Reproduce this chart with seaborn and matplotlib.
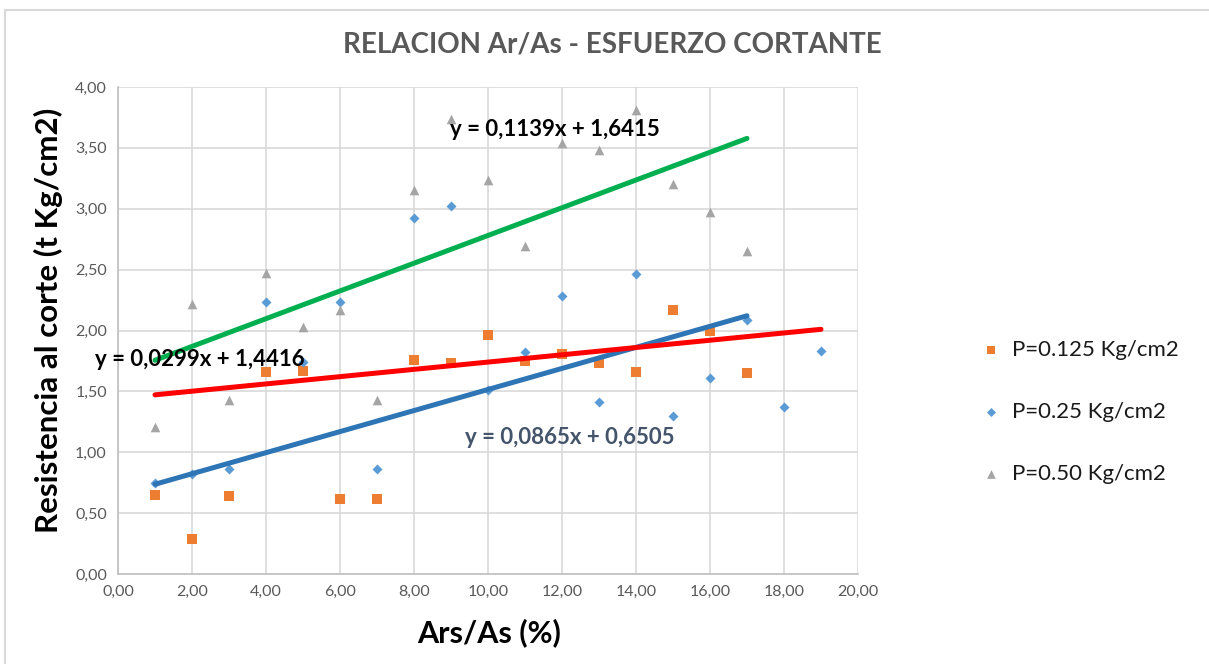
import matplotlib
matplotlib.use("Agg")
import matplotlib.pyplot as plt
import seaborn as sns
import numpy as np
import pandas as pd
from matplotlib.ticker import FuncFormatter, MultipleLocator
from matplotlib.patches import Rectangle

# ---- data ----
x_125 = [1, 2, 3, 4, 5, 6, 7, 8, 9, 10, 11, 12, 13, 14, 15, 16, 17]
y_125 = [0.65, 0.29, 0.64, 1.66, 1.67, 0.62, 0.62, 1.76, 1.73, 1.96, 1.75, 1.81, 1.73, 1.66, 2.17, 2.00, 1.65]

x_25 = [1, 2, 3, 4, 5, 6, 7, 8, 9, 10, 11, 12, 13, 14, 15, 16, 17, 18, 19]
y_25 = [0.75, 0.82, 0.86, 2.23, 1.74, 2.23, 0.86, 2.92, 3.02, 1.51, 1.82, 2.28, 1.41, 2.46, 1.30, 1.61, 2.09, 1.37, 1.83]

x_50 = [1, 2, 3, 4, 5, 6, 7, 8, 9, 10, 11, 12, 13, 14, 15, 16, 17]
y_50 = [1.21, 2.22, 1.43, 2.47, 2.03, 2.17, 1.43, 3.15, 3.74, 3.24, 2.69, 3.54, 3.48, 3.81, 3.20, 2.97, 2.65]

series_labels = ["P=0.125 Kg/cm2", "P=0.25 Kg/cm2", "P=0.50 Kg/cm2"]

# trendline equations (slope, intercept) and x-ranges as shown
trend_slopes = [0.0865, 0.0299, 0.1139]
trend_intercepts = [0.6505, 1.4416, 1.6415]
trend_x_ranges = [(1, 17), (1, 19), (1, 17)]
trend_texts = ["y = 0,0865x + 0,6505", "y = 0,0299x + 1,4416", "y = 0,1139x + 1,6415"]

title = "RELACION Ar/As - ESFUERZO CORTANTE"
xlabel = "Ars/As (%)"
ylabel = "Resistencia al corte (t Kg/cm2)"

df = pd.DataFrame({
    "x": x_125 + x_25 + x_50,
    "y": y_125 + y_25 + y_50,
    "serie": [series_labels[0]] * len(x_125) + [series_labels[1]] * len(x_25) + [series_labels[2]] * len(x_50),
})

sns.set_theme(style="white")
plt.rcParams["font.family"] = ["Lato", "DejaVu Sans"]

W, H = 1209, 664
fig = plt.figure(figsize=(W / 100, H / 100), dpi=100)
fig.patch.set_facecolor("white")
ax = fig.add_axes([118 / W, 1 - 574 / H, (858 - 118) / W, (574 - 87) / H])

palette = {series_labels[0]: "#ED7D31", series_labels[1]: "#5B9BD5", series_labels[2]: "#A5A5A5"}
markers = {series_labels[0]: "s", series_labels[1]: "D", series_labels[2]: "^"}
sizes = {series_labels[0]: 42, series_labels[1]: 26, series_labels[2]: 48}

for lab in series_labels:
    sub = df[df["serie"] == lab]
    sns.scatterplot(data=sub, x="x", y="y", color=palette[lab], marker=markers[lab],
                    s=sizes[lab], linewidth=0, ax=ax, label=lab, zorder=3)

line_colors = ["#2E75B6", "#FF0000", "#00B050"]
for m, b, (x0, x1), c in zip(trend_slopes, trend_intercepts, trend_x_ranges, line_colors):
    xs = np.array([x0, x1])
    ax.plot(xs, m * xs + b, color=c, lw=3.6, solid_capstyle="round", zorder=4)

ax.set_xlim(0, 20)
ax.set_ylim(0, 4)
ax.xaxis.set_major_locator(MultipleLocator(2))
ax.yaxis.set_major_locator(MultipleLocator(0.5))
fmt = FuncFormatter(lambda v, p: f"{v:.2f}".replace(".", ","))
ax.xaxis.set_major_formatter(fmt)
ax.yaxis.set_major_formatter(fmt)
ax.grid(True, color="#D9D9D9", lw=1.2, zorder=0)
ax.set_axisbelow(True)
for s in ["top", "right"]:
    ax.spines[s].set_visible(False)
for s in ["left", "bottom"]:
    ax.spines[s].set_color("#BFBFBF")
    ax.spines[s].set_linewidth(1.2)
ax.tick_params(axis="both", labelsize=11.5, colors="#595959", length=0, pad=8)
ax.set_xlabel("")
ax.set_ylabel("")

fig.text(48 / W, 1 - 320 / H, ylabel, rotation=90, ha="center", va="center",
         fontsize=22.5, fontweight="bold", color="black")
fig.text(489 / W, 1 - 633 / H, xlabel, ha="center", va="center",
         fontsize=22, fontweight="bold", color="black")
fig.text(612 / W, 1 - 45 / H, title, ha="center", va="center",
         fontsize=20, fontweight="bold", color="#595959")

text_pos = [(465, 437), (95, 360), (450, 129)]
text_cols = ["#44546A", "black", "black"]
for t, (px, py), c in zip(trend_texts, text_pos, text_cols):
    fig.text(px / W, 1 - py / H, t, ha="left", va="center", fontsize=16,
             fontweight="bold", color=c, zorder=5)

ax.get_legend().remove()
handles, labels = ax.get_legend_handles_labels()
leg = fig.legend(handles, labels, loc="center left", bbox_to_anchor=(960 / W, 1 - 412 / H),
                 frameon=False, fontsize=16, labelspacing=1.9, handletextpad=0.45,
                 handlelength=1.0, markerscale=0.9)
for txt in leg.get_texts():
    txt.set_color("#1a1a1a")

fig.add_artist(Rectangle((5 / W, -0.01), 1.0, 1 - 10 / H + 0.01, transform=fig.transFigure,
                         fill=False, edgecolor="#D9D9D9", lw=1.5))

fig.savefig("out.png", dpi=100)
